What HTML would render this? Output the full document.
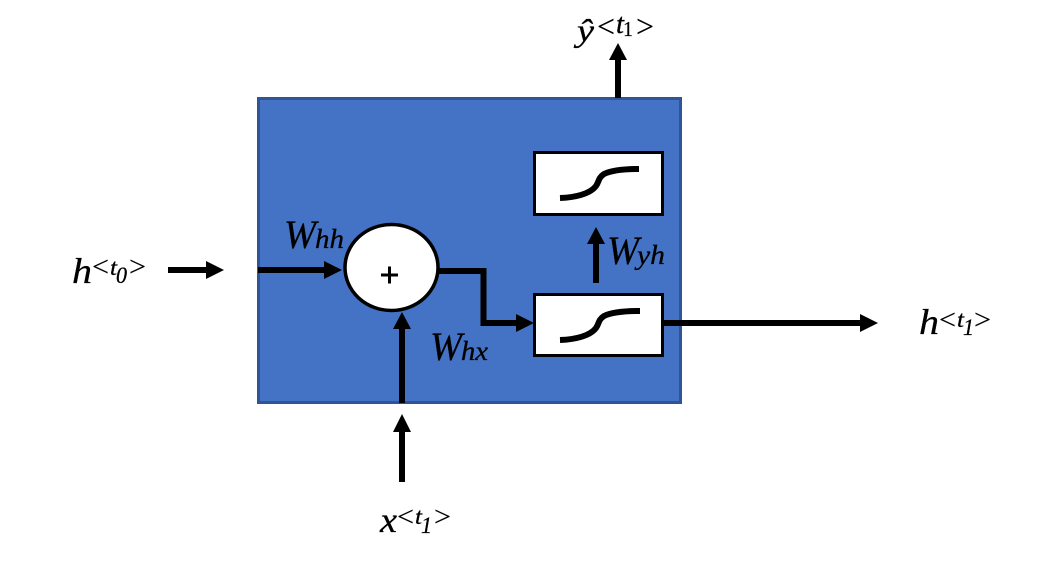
<!DOCTYPE html>
<html>
<head>
<meta charset="utf-8">
<style>
html,body{margin:0;padding:0;background:#fff;width:1062px;height:568px;overflow:hidden}
svg{display:block}
text{font-family:"Liberation Serif",serif;font-style:italic;fill:#000;stroke:#000;stroke-width:.3px}
text.r{font-style:normal;stroke-width:.15px}
</style>
</head>
<body>
<svg width="1062" height="568" viewBox="0 0 1062 568" xmlns="http://www.w3.org/2000/svg">
<rect x="258.5" y="98.5" width="422" height="304" fill="#4472c4" stroke="#2f5597" stroke-width="3"/>

<!-- output up -->
<path d="M618 98V60" stroke="#000" stroke-width="6" fill="none"/>
<path d="M609 60H627L618 43Z" fill="#000"/>

<!-- h0 arrow outside -->
<path d="M168 270H206" stroke="#000" stroke-width="6" fill="none"/>
<path d="M206 261V279L224 270Z" fill="#000"/>
<!-- h0 arrow inside -->
<path d="M258 270H324" stroke="#000" stroke-width="6" fill="none"/>
<path d="M324 261V279L342 270Z" fill="#000"/>

<!-- circle -->
<ellipse cx="391.5" cy="267.5" rx="46.5" ry="43" fill="#fff" stroke="#000" stroke-width="3.5"/>
<path d="M381 275H398M389.500 266.500V283.500" stroke="#000" stroke-width="3" fill="none"/>

<!-- x arrows -->
<path d="M402 403V329" stroke="#000" stroke-width="6" fill="none"/>
<path d="M393 329H411L402 312Z" fill="#000"/>
<path d="M402 482V432" stroke="#000" stroke-width="6" fill="none"/>
<path d="M393 432H411L402 414Z" fill="#000"/>

<!-- elbow -->
<path d="M438 271H483.500V323H516" stroke="#000" stroke-width="6" fill="none"/>
<path d="M516 314V332L534 323Z" fill="#000"/>

<!-- boxes -->
<rect x="534.500" y="152.500" width="128" height="62" fill="#fff" stroke="#000" stroke-width="3"/>
<rect x="534.500" y="294.500" width="128" height="61" fill="#fff" stroke="#000" stroke-width="3"/>
<path d="M560 198C575 197.500 590 194 596 186C599 182 598 178 604 174C612 170 625 169 639 169" stroke="#000" stroke-width="6" fill="none"/>
<path d="M560 340C575 339.500 590 336 596 328C599 324 598 320 604 316C612 312 625 311 640 311" stroke="#000" stroke-width="6" fill="none"/>

<!-- Wyh arrow -->
<path d="M596 283V244" stroke="#000" stroke-width="6" fill="none"/>
<path d="M587 244H605L596 227Z" fill="#000"/>

<!-- output right -->
<path d="M663 323H860" stroke="#000" stroke-width="6" fill="none"/>
<path d="M860 314V332L878 323Z" fill="#000"/>

<!-- labels -->
<text x="72" y="283" font-size="36" textLength="20" lengthAdjust="spacingAndGlyphs">h</text>
<text class="r" x="92" y="276" font-size="28" textLength="17" lengthAdjust="spacingAndGlyphs">&lt;</text>
<text x="110" y="275" font-size="23" textLength="7" lengthAdjust="spacingAndGlyphs">t</text>
<text x="116" y="283" font-size="23" textLength="11" lengthAdjust="spacingAndGlyphs">0</text>
<text class="r" x="129" y="276" font-size="28" textLength="17" lengthAdjust="spacingAndGlyphs">&gt;</text>

<text x="284" y="248" font-size="40" textLength="32" lengthAdjust="spacingAndGlyphs">W</text>
<text x="315" y="248" font-size="27" textLength="29" lengthAdjust="spacingAndGlyphs">hh</text>

<text x="430" y="360" font-size="40" textLength="32" lengthAdjust="spacingAndGlyphs">W</text>
<text x="461" y="360" font-size="27" textLength="27" lengthAdjust="spacingAndGlyphs">hx</text>

<text x="607" y="264" font-size="40" textLength="32" lengthAdjust="spacingAndGlyphs">W</text>
<text x="637" y="264" font-size="27" textLength="28" lengthAdjust="spacingAndGlyphs">yh</text>

<text x="380" y="532" font-size="36" textLength="17" lengthAdjust="spacingAndGlyphs">x</text>
<text class="r" x="397" y="526" font-size="28" textLength="17" lengthAdjust="spacingAndGlyphs">&lt;</text>
<text x="415" y="524" font-size="23" textLength="7" lengthAdjust="spacingAndGlyphs">t</text>
<text x="421" y="533" font-size="23" textLength="11" lengthAdjust="spacingAndGlyphs">1</text>
<text class="r" x="434" y="526" font-size="28" textLength="17" lengthAdjust="spacingAndGlyphs">&gt;</text>

<text x="919" y="334" font-size="36" textLength="20" lengthAdjust="spacingAndGlyphs">h</text>
<text class="r" x="939" y="329" font-size="28" textLength="17" lengthAdjust="spacingAndGlyphs">&lt;</text>
<text x="957" y="327" font-size="23" textLength="7" lengthAdjust="spacingAndGlyphs">t</text>
<text x="963" y="335" font-size="23" textLength="11" lengthAdjust="spacingAndGlyphs">1</text>
<text class="r" x="974" y="329" font-size="28" textLength="17" lengthAdjust="spacingAndGlyphs">&gt;</text>

<text x="577" y="41" font-size="32" textLength="17" lengthAdjust="spacingAndGlyphs">ŷ</text>
<text class="r" x="597" y="37" font-size="32" textLength="18" lengthAdjust="spacingAndGlyphs">&lt;</text>
<text x="616" y="33" font-size="28" textLength="8" lengthAdjust="spacingAndGlyphs">t</text>
<text class="r" x="623" y="36" font-size="21" textLength="10" lengthAdjust="spacingAndGlyphs">1</text>
<text class="r" x="636" y="37" font-size="32" textLength="18" lengthAdjust="spacingAndGlyphs">&gt;</text>
</svg>
</body>
</html>
